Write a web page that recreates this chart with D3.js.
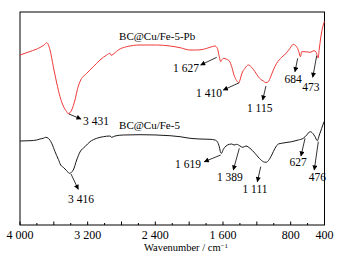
<!DOCTYPE html>
<html><head><meta charset="utf-8">
<script src="https://cdn.jsdelivr.net/npm/d3@7"></script>
<style>
html,body{margin:0;padding:0;background:#fff;}
svg{display:block;font-family:"Liberation Serif","Times New Roman",serif;}
</style></head>
<body><svg id="c" width="340" height="262"></svg>
<script>
// Wavenumber (cm-1) and transmittance (arbitrary units, offset spectra)
const redWn  = [4000,3882,3764,3716,3684,3645,3606,3566,3527,3488,3448,3431,3389,3350,3318,3291,3211,3133,3054,2975,2936,2924,2877,2838,2739,2581,2384,2227,2108,1990,1911,1833,1754,1695,1667,1644,1627,1615,1596,1556,1525,1497,1470,1438,1414,1399,1379,1340,1301,1261,1222,1183,1154,1123,1092,1064,1036,1005,965,906,847,808,769,737,710,684,670,630,571,524,500,476,462,445,421,402];
const redVal = [170,173.5,177.5,180,182.3,175,158.3,142,128.3,119,113.3,111.3,115,125,136.7,143.3,151.7,158.3,165,170,171.7,169.7,172.3,175,178.3,180,180,179,177.3,175,175,175.7,177.7,179,176.7,168.3,163.3,165,166.7,165.7,164,158.3,150,144.3,142.3,145,151,156.7,160,157.7,153.3,148.3,145.7,144,142.3,143.3,148.3,155,161.7,167.7,172.3,176.7,180.7,179,175,168.3,173.3,173.3,172.7,174.3,173,167,176,187,198,203.5];
const blkWn  = [4000,3882,3803,3764,3724,3696,3665,3625,3586,3547,3519,3488,3448,3416,3370,3330,3291,3232,3172,3093,3015,2936,2916,2877,2779,2581,2227,2108,1990,1872,1754,1695,1667,1644,1627,1619,1596,1564,1525,1497,1470,1438,1399,1367,1328,1281,1222,1171,1123,1092,1064,1024,985,946,906,867,788,710,651,610,571,539,512,485,461,433,406];
const blkVal = [84,84.3,85,86,86.7,87.7,86.7,81.7,73.3,65.7,60,57.7,54.3,51.7,55,65,73,78.3,83.3,86.7,88.3,89,87.7,89,90,90.3,89.3,88.3,86.7,86,85.7,85,83.3,78.3,72.3,71.7,75.7,79,80.7,81,80,80.7,79,77.7,79,76.7,71.7,66.7,63.3,62.7,64.3,70,76.7,81,81.7,82.3,83.3,85,86.7,90,93.3,91.7,88.3,84.3,90,96.7,103.3];
const seriesNames = ["BC@Cu/Fe-5-Pb","BC@Cu/Fe-5"];
const tickLabels = ["4 000","3 200","2 400","1 600","800","400"];
const tickValues = [4000,3200,2400,1600,800,400];
// peak annotations: label, arrow start (wn,val), arrow end (wn,val), text centre (wn,val)
const redPeaks = [
  ["3 431",3421,111,3279,106,3101,104.3],
  ["1 627",1674,167.7,1864,160,2037,157.3],
  ["1 410",1407,142.3,1596,135,1765,131.7],
  ["1 115",1092,139,1131,125,1166,117.3],
  ["684",717,166.7,749,153.3,772,145.7],
  ["473",492,169.3,539,147.7,562,137.7]
];
const blkPeaks = [
  ["3 416",3397,51,3311,35.7,3279,26],
  ["1 619",1627,70,1821,63.3,2014,61],
  ["1 389",1407,76.7,1478,55,1519,47.7],
  ["1 111",1154,58.3,1194,43.3,1222,36],
  ["627",630,86.7,678,69,713,62.7],
  ["476",473,83.3,521,55,483,47.7]
];

const svg = d3.select("#c");
const L=20,R=324.5,T=12,B=225;
const x = d3.scaleLinear().domain([4000,400]).range([L,R]);
const y = d3.scaleLinear().domain([0,213]).range([B,T]);

const defs = svg.append("defs");
defs.append("marker").attr("id","ah").attr("viewBox","0 0 10 10").attr("refX",9).attr("refY",5)
  .attr("markerWidth",6).attr("markerHeight",5).attr("markerUnits","userSpaceOnUse").attr("orient","auto")
  .append("path").attr("d","M0,0L10,5L0,10Z").attr("fill","#000");

// frame
svg.append("rect").attr("x",L).attr("y",T).attr("width",R-L).attr("height",B-T)
  .attr("fill","none").attr("stroke","#000").attr("stroke-width",1);

// ticks
const minor = d3.range(4000,399,-200);
svg.append("g").selectAll("line").data(minor).join("line")
  .attr("x1",d=>x(d)).attr("x2",d=>x(d)).attr("y1",B)
  .attr("y2",d=>B-(d%400===0?3.5:2)).attr("stroke","#000").attr("stroke-width",1);
svg.append("g").selectAll("text").data(tickValues).join("text")
  .attr("x",d=>x(d)).attr("y",235).attr("dy","0.35em").attr("text-anchor","middle")
  .attr("font-size",12).text((d,i)=>tickLabels[i]);
const t = svg.append("text").attr("x",186).attr("y",247).attr("dy","0.35em").attr("text-anchor","middle").attr("font-size",10.5);
t.append("tspan").text("Wavenumber / cm");
t.append("tspan").attr("dy","-0.45em").attr("font-size",7).text("\u22121");

const line = d3.line().x(d=>x(d[0])).y(d=>y(d[1])).curve(d3.curveMonotoneX);
svg.append("path").datum(blkWn.map((w,i)=>[w,blkVal[i]]).reverse()).attr("d",line)
  .attr("fill","none").attr("stroke","#1a1a1a").attr("stroke-width",1);
svg.append("path").datum(redWn.map((w,i)=>[w,redVal[i]]).reverse()).attr("d",line)
  .attr("fill","none").attr("stroke","#f03a3a").attr("stroke-width",1);

// series labels
svg.append("text").attr("x",x(2829)).attr("y",y(189)).attr("dy","0.35em").attr("font-size",11).text(seriesNames[0]);
svg.append("text").attr("x",x(2829)).attr("y",y(100)).attr("dy","0.35em").attr("font-size",11).text(seriesNames[1]);

function annotate(arr){
  const g = svg.append("g");
  arr.forEach(p=>{
    g.append("line").attr("x1",x(p[1])).attr("y1",y(p[2])).attr("x2",x(p[3])).attr("y2",y(p[4]))
      .attr("stroke","#000").attr("stroke-width",0.8).attr("marker-end","url(#ah)");
    g.append("text").attr("x",x(p[5])).attr("y",y(p[6])).attr("dy","0.35em").attr("text-anchor","middle")
      .attr("font-size",11.5).text(p[0]);
  });
}
annotate(redPeaks);
annotate(blkPeaks);
</script></body></html>
